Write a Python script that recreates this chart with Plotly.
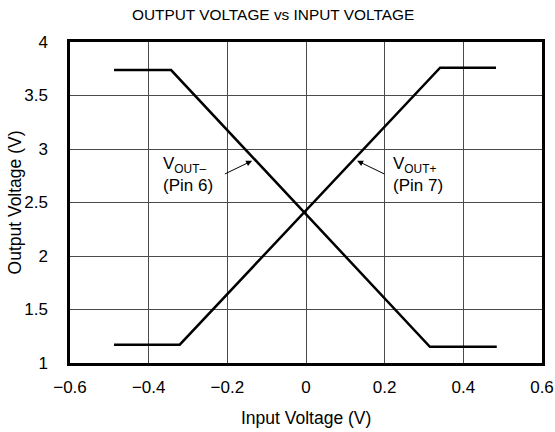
import plotly.graph_objects as go

vout_minus_x = [-0.488, -0.343, 0.315, 0.485]
vout_minus_y = [3.738, 3.738, 1.152, 1.152]
vout_plus_x = [-0.488, -0.321, 0.341, 0.483]
vout_plus_y = [1.171, 1.171, 3.760, 3.760]

x_ticks = [-0.6, -0.4, -0.2, 0, 0.2, 0.4, 0.6]
x_tick_labels = ["\u22120.6", "\u22120.4", "\u22120.2", "0", "0.2", "0.4", "0.6"]
y_ticks = [1, 1.5, 2, 2.5, 3, 3.5, 4]
y_tick_labels = ["1", "1.5", "2", "2.5", "3", "3.5", "4"]

FONT = "Liberation Sans, Arial, sans-serif"

fig = go.Figure()
fig.add_trace(go.Scatter(x=vout_minus_x, y=vout_minus_y, mode="lines",
                         line=dict(color="black", width=2.5), showlegend=False))
fig.add_trace(go.Scatter(x=vout_plus_x, y=vout_plus_y, mode="lines",
                         line=dict(color="black", width=2.5), showlegend=False))

fig.add_annotation(x=-0.137, y=2.89, ax=-0.21, ay=2.76, xref="x", yref="y", axref="x", ayref="y",
                   text="", showarrow=True, arrowhead=2, arrowsize=1.2, arrowwidth=1, arrowcolor="black")
fig.add_annotation(x=0.130, y=2.89, ax=0.203, ay=2.76, xref="x", yref="y", axref="x", ayref="y",
                   text="", showarrow=True, arrowhead=2, arrowsize=1.2, arrowwidth=1, arrowcolor="black")
fig.add_annotation(x=-0.299, y=2.766, xref="x", yref="y", showarrow=False, align="left",
                   text="V<sub>OUT\u2013</sub><br>(Pin 6)", font=dict(family=FONT, size=17, color="black"))
fig.add_annotation(x=0.284, y=2.766, xref="x", yref="y", showarrow=False, align="left",
                   text="V<sub>OUT+</sub><br>(Pin 7)", font=dict(family=FONT, size=17, color="black"))

# axis titles
fig.add_annotation(x=0.5, y=-0.171, xref="paper", yref="paper", showarrow=False,
                   xanchor="center", yanchor="middle",
                   text="Input Voltage (V)", font=dict(family=FONT, size=17.5, color="black"))
fig.add_annotation(x=-0.1166, y=0.5, xref="paper", yref="paper", showarrow=False,
                   xanchor="center", yanchor="middle", textangle=-90,
                   text="Output Voltage (V)", font=dict(family=FONT, size=17.5, color="black"))

fig.update_layout(
    width=555, height=432,
    margin=dict(l=70, r=13, t=42, b=69),
    paper_bgcolor="white", plot_bgcolor="white",
    font=dict(family=FONT, size=17, color="black"),
    title=dict(text="OUTPUT VOLTAGE vs INPUT VOLTAGE", x=0.492, xanchor="center", xref="container",
               y=0.966, yanchor="middle", font=dict(family=FONT, size=15.4, color="black")),
    xaxis=dict(range=[-0.6, 0.6], tickvals=x_ticks, ticktext=x_tick_labels,
               showgrid=True, gridcolor="#4a4a4a", gridwidth=1, zeroline=False,
               showline=True, linecolor="black", linewidth=2.5, mirror=True,
               ticks="", ticklabelstandoff=7, automargin=False),
    yaxis=dict(range=[1, 4], tickvals=y_ticks, ticktext=y_tick_labels,
               showgrid=True, gridcolor="#4a4a4a", gridwidth=1, zeroline=False,
               showline=True, linecolor="black", linewidth=2.5, mirror=True,
               ticks="", ticklabelstandoff=16, automargin=False),
)

fig.write_html("out.html", config={"displayModeBar": False},
               post_script="document.body.style.margin='0';")
